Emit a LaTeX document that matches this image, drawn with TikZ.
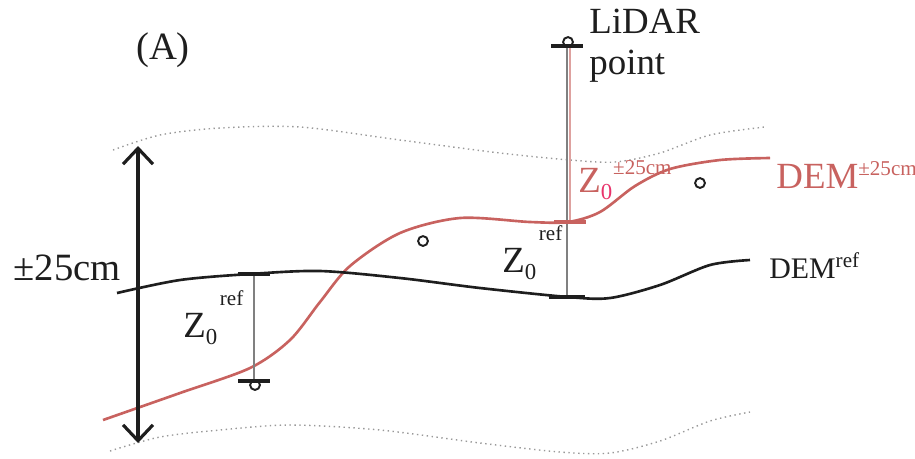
\documentclass[tikz,border=0pt]{standalone}
\usepackage{fontspec}
\setmainfont{Liberation Serif}
\usetikzlibrary{arrows.meta}
\definecolor{demred}{HTML}{C8625F}
\definecolor{zpink}{HTML}{E8336B}
\definecolor{ink}{HTML}{1E1E1E}
\newcommand{\fsz}[1]{\fontsize{#1}{1.1\dimexpr#1pt\relax}\selectfont}
% Z with subscript #1 and superscript #2 (gap #3, raise #4)
\newcommand{\zlbl}[4]{Z\rlap{\raisebox{-4.5pt}{\fsz{13}#1}}\hspace{#3}\raisebox{#4}{\fsz{12}#2}}
\begin{document}
\begin{tikzpicture}[x=0.02cm,y=-0.02cm,
  dem/.style={line width=1.5pt},
  bound/.style={gray!80,dotted,line width=0.8pt},
  gap/.style={gray,line width=1pt},
  bar/.style={line width=2.2pt},
  pt/.style={draw=ink,circle,line width=1.1pt,inner sep=0pt,minimum size=5.6pt},
  lbl/.style={inner sep=0pt,text=ink}]
  \useasboundingbox (0,0) rectangle (915,458);

  % limits of the +-25cm band
  \draw[bound] plot[smooth] coordinates {(113,150) (160,135) (220,128) (300,127)
    (400,140) (500,153) (570,160) (615,162) (660,153) (710,135) (765,127)};
  \draw[bound] plot[smooth] coordinates {(110,451) (160,437) (220,430) (290,425)
    (380,430) (480,443) (560,452) (610,453) (660,441) (710,421) (750,412)};

  % the two surfaces
  \draw[dem,demred] plot[smooth] coordinates {(103,420) (180,393) (250,368) (290,340)
    (320,302) (350,266) (400,233) (460,218) (530,222) (568,222) (600,212)
    (635,186) (670,169) (720,160) (770,158)};
  \draw[dem,ink] plot[smooth] coordinates {(117,293) (180,280) (250,274) (320,271)
    (400,278) (480,288) (568,297) (610,298) (660,285) (710,265) (750,260)};

  % height differences
  \coordinate (refL) at (254,274);
  \coordinate (ptL) at (254,381);
  \coordinate (lidar) at (567,46);
  \coordinate (refR) at (567,297);
  \coordinate (shiftR) at (570,222);
  \coordinate (lidarR) at (570,46);

  \draw[gap] (refL) -- (ptL);
  \draw[gap] (lidar) -- (refR);
  \draw[demred!60,line width=1pt] (lidarR) -- (shiftR);
  \draw[bar,ink] ([xshift=-9]refL) -- ([xshift=9]refL);
  \draw[bar,ink] ([xshift=-9]ptL) -- ([xshift=9]ptL);
  \draw[bar,ink] ([xshift=-10]refR) -- ([xshift=10]refR);
  \draw[bar,demred] ([xshift=-9]shiftR) -- ([xshift=9]shiftR);
  \draw[bar,ink] ([xshift=-9]lidar) -- ([xshift=9]lidar);

  % LiDAR points
  \node[pt] (pL) at (255,385) {};
  \node[pt] (pTop) at (568,42) {};
  \node[pt] (pM) at (423,241) {};
  \node[pt] (pR) at (700,183) {};

  % band height
  \coordinate (bandTop) at (138,146);
  \coordinate (bandBot) at (138,443);
  \draw[ink,line width=1.8pt,{Straight Barb[length=9pt,width=17pt]}-{Straight Barb[length=9pt,width=17pt]}]
    (bandTop) -- (bandBot);

  % texts
  \node[lbl,font=\fsz{22}] (title) at (163,50) {(A)};
  \node[lbl,anchor=north west,align=left,font=\fontsize{21}{23}\selectfont] (lidarTxt) at (589,9)
    {LiDAR\\point};
  \node[lbl,font=\fsz{22}] (bandTxt) at (67,268) {±25cm};
  \node[lbl,anchor=west,font=\fsz{17}] (demRef) at (769,266) {DEM\textsuperscript{\fsz{12}ref}};
  \node[lbl,anchor=west,text=demred,font=\fsz{21}] (demShift) at (776,175)
    {DEM\textsuperscript{\fsz{12}±25cm}};
  \node[lbl,anchor=base west,font=\fsz{21}] (zL) at (183,337) {\zlbl{0}{ref}{8pt}{18pt}};
  \node[lbl,anchor=base west,font=\fsz{21}] (zR) at (502,272) {\zlbl{0}{ref}{8pt}{18pt}};
  \node[lbl,anchor=base west,text=demred,font=\fsz{21}] (zShift) at (578,192)
    {\zlbl{\color{zpink}0}{±25cm}{7pt}{10pt}};
\end{tikzpicture}
\end{document}
